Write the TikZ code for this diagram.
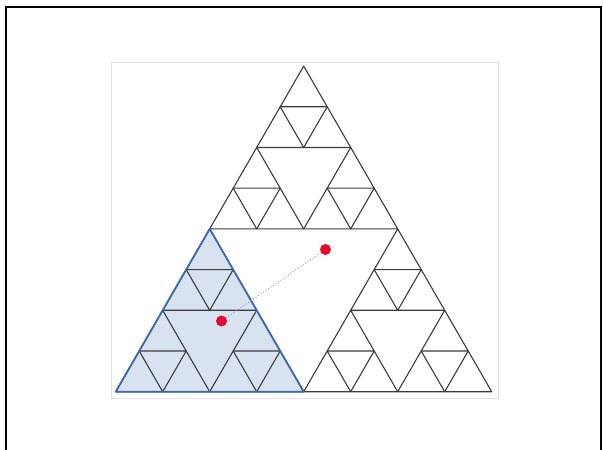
\documentclass[tikz,border=0pt]{standalone}
\usetikzlibrary{calc}
\definecolor{shade}{RGB}{216,226,240}
\definecolor{edgeblue}{RGB}{60,105,175}
\definecolor{dotred}{RGB}{228,10,45}
\definecolor{trigray}{RGB}{60,60,60}
\tikzset{
  frameline/.style={draw=black,line width=2pt},
  imgbox/.style={draw=gray!25,line width=0.8pt},
  tri/.style={draw=trigray,line width=1.1pt,line join=round},
  shaded/.style={fill=shade,draw=none},
  bluetri/.style={draw=edgeblue,line width=1.8pt,line join=round},
  dot/.style={circle,fill=dotred,draw=none,minimum size=11pt,inner sep=0pt},
  link/.style={draw=gray!75,dotted,line width=1pt}
}
\begin{document}
\begin{tikzpicture}[x=1pt,y=-1pt]
\useasboundingbox (0,0) rectangle (603,450);
% outer frame
\draw[frameline] (6,450) -- (6,7) -- (601,7) -- (601,450);
% picture region
\draw[imgbox] (111,62) rectangle (498,398);
% corner coordinates
\coordinate (A) at (115.7,391.7);
\coordinate (M) at (303.7,391.7);
\coordinate (N) at (209.7,228.9);
% shaded part
\fill[shaded] (A) -- (M) -- (N) -- cycle;
% sierpinski level 3
\foreach \ax/\ay in {0/0,4/0,2/-3.4641016}
 \foreach \bx/\by in {0/0,2/0,1/-1.7320508}
  \foreach \cx/\cy in {0/0,1/0,0.5/-0.8660254}
   \draw[tri] ($(A)+({47*(\ax+\bx+\cx)},{47*(\ay+\by+\cy)})$) -- ++(47,0) -- ++(-23.5,-40.703) -- cycle;
% blue outline
\draw[bluetri] (A) -- (M) -- (N) -- cycle;
% points
\node[dot] (p) at (325.5,249.5) {};
\node[dot] (q) at (221.5,321) {};
\draw[link] (p) -- (q);
\end{tikzpicture}
\end{document}
